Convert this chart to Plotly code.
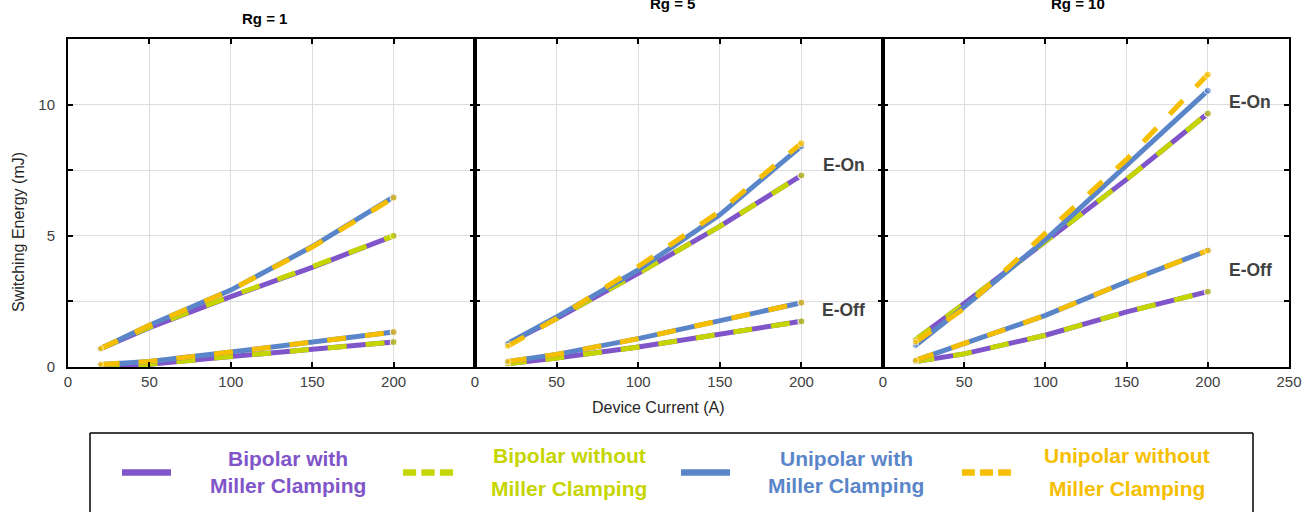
import plotly.graph_objects as go

# Device current sample points (A)
current = [20, 50, 100, 150, 200]

# Switching energy (mJ) per gate resistance
# Rg = 1
rg1_eon_bip_mc = [0.70, 1.50, 2.68, 3.80, 5.00]
rg1_eon_bip_nomc = [0.70, 1.52, 2.70, 3.82, 5.00]
rg1_eon_uni_mc = [0.70, 1.59, 2.93, 4.59, 6.48]
rg1_eon_uni_nomc = [0.70, 1.59, 2.93, 4.57, 6.45]
rg1_eoff_bip_mc = [0.00, 0.10, 0.40, 0.66, 0.95]
rg1_eoff_bip_nomc = [0.00, 0.10, 0.40, 0.66, 0.95]
rg1_eoff_uni_mc = [0.10, 0.21, 0.57, 0.93, 1.33]
rg1_eoff_uni_nomc = [0.10, 0.21, 0.57, 0.93, 1.33]

# Rg = 5
rg5_eon_bip_mc = [0.89, 1.85, 3.57, 5.36, 7.30]
rg5_eon_bip_nomc = [0.89, 1.85, 3.57, 5.36, 7.30]
rg5_eon_uni_mc = [0.89, 1.91, 3.70, 5.80, 8.42]
rg5_eon_uni_nomc = [0.79, 1.85, 3.83, 5.93, 8.53]
rg5_eoff_bip_mc = [0.12, 0.34, 0.76, 1.25, 1.74]
rg5_eoff_bip_nomc = [0.12, 0.34, 0.76, 1.25, 1.74]
rg5_eoff_uni_mc = [0.21, 0.48, 1.08, 1.76, 2.45]
rg5_eoff_uni_nomc = [0.21, 0.48, 1.08, 1.76, 2.45]

# Rg = 10
rg10_eon_bip_mc = [1.04, 2.42, 4.78, 7.15, 9.66]
rg10_eon_bip_nomc = [1.04, 2.42, 4.78, 7.15, 9.66]
rg10_eon_uni_mc = [0.82, 2.29, 4.85, 7.66, 10.53]
rg10_eon_uni_nomc = [0.95, 2.23, 5.10, 7.91, 11.15]
rg10_eoff_bip_mc = [0.21, 0.50, 1.21, 2.10, 2.87]
rg10_eoff_bip_nomc = [0.21, 0.50, 1.21, 2.10, 2.87]
rg10_eoff_uni_mc = [0.25, 0.89, 1.97, 3.25, 4.44]
rg10_eoff_uni_nomc = [0.25, 0.89, 1.97, 3.25, 4.44]

panel_titles = ["Rg = 1", "Rg = 5", "Rg = 10"]
series_line1 = ["Bipolar with", "Bipolar without", "Unipolar with", "Unipolar without"]
series_line2 = ["Miller Clamping"] * 4
x_ticks_inner = [0, 50, 100, 150, 200]
x_ticks_last = [0, 50, 100, 150, 200, 250]
y_ticks = [0, 2.5, 5, 7.5, 10]
y_tick_text = ["0", "", "5", "", "10"]

PURPLE = "#7F55C9"
GREEN = "#C5D500"
BLUE = "#5A86C9"
ORANGE = "#F6BE00"
colors = [PURPLE, GREEN, BLUE, ORANGE]
dashes = ["solid", "19px,19px", "solid", "19px,19px"]

panels = [
    [(rg1_eon_bip_mc, rg1_eon_bip_nomc, rg1_eon_uni_mc, rg1_eon_uni_nomc),
     (rg1_eoff_bip_mc, rg1_eoff_bip_nomc, rg1_eoff_uni_mc, rg1_eoff_uni_nomc)],
    [(rg5_eon_bip_mc, rg5_eon_bip_nomc, rg5_eon_uni_mc, rg5_eon_uni_nomc),
     (rg5_eoff_bip_mc, rg5_eoff_bip_nomc, rg5_eoff_uni_mc, rg5_eoff_uni_nomc)],
    [(rg10_eon_bip_mc, rg10_eon_bip_nomc, rg10_eon_uni_mc, rg10_eon_uni_nomc),
     (rg10_eoff_bip_mc, rg10_eoff_bip_nomc, rg10_eoff_uni_mc, rg10_eoff_uni_nomc)],
]

W, H = 1305, 512
FONT = "Liberation Sans, Arial, sans-serif"


def px(x):
    return x / W


def py(y):
    return 1 - y / H


fig = go.Figure()

for p, groups in enumerate(panels):
    xa = "x" if p == 0 else f"x{p + 1}"
    ya = "y" if p == 0 else f"y{p + 1}"
    for group in groups:
        for k, vals in enumerate(group):
            n = len(vals)
            fig.add_trace(go.Scatter(
                x=current, y=vals, xaxis=xa, yaxis=ya, mode="lines+markers",
                line=dict(color=colors[k], width=5, dash=dashes[k]),
                marker=dict(color=colors[k], size=[6] + [0] * (n - 2) + [7]),
                showlegend=False, hoverinfo="skip",
            ))

domains = [(68, 475), (475, 883), (883, 1289)]
frame = dict(
    showgrid=True, gridcolor="#dddddd", gridwidth=1,
    showline=True, linecolor="black", linewidth=2, mirror="allticks",
    ticks="inside", ticklen=5, tickcolor="black", tickwidth=1.5,
    tickfont=dict(family=FONT, size=15, color="#404040"),
    zeroline=False, automargin=False,
)
for p, (a, b) in enumerate(domains):
    suffix = "" if p == 0 else str(p + 1)
    xa = dict(frame, range=[0, 250], domain=[px(a), px(b)],
              tickvals=x_ticks_last if p == 2 else x_ticks_inner,
              anchor="y" + suffix)
    ya = dict(frame, range=[0, 12.5], domain=[py(367), py(39)],
              tickvals=y_ticks, ticktext=y_tick_text,
              anchor="x" + suffix, showticklabels=(p == 0), ticklabelstandoff=8)
    fig.update_layout(**{"xaxis" + suffix: xa, "yaxis" + suffix: ya})


def note(text, x, y, size, color, **kw):
    return dict(text=text, x=px(x), y=py(y), xref="paper", yref="paper",
                xanchor="center", yanchor="middle", showarrow=False,
                font=dict(family=FONT, size=size, color=color), **kw)


annotations = []
title_pos = [(264, 18), (672, 3), (1078, 3)]
for t, (x, y) in zip(panel_titles, title_pos):
    annotations.append(note(f"<b>{t}</b>", x, y, 15, "black"))

# E-On / E-Off labels placed in data coordinates
label_font = dict(family=FONT, size=17.5, color="#404040")
for xr, yr, txt, xv, yv in [("x2", "y2", "E-On", 226, 7.68), ("x2", "y2", "E-Off", 226, 2.16),
                            ("x3", "y3", "E-On", 226, 10.1), ("x3", "y3", "E-Off", 226, 3.7)]:
    annotations.append(dict(text=f"<b>{txt}</b>", x=xv, y=yv, xref=xr, yref=yr,
                            xanchor="center", yanchor="middle", showarrow=False, font=label_font))

annotations.append(note("Device Current (A)", 658, 407, 16, "#262626"))
annotations.append(note("Switching Energy (mJ)", 18, 232, 16, "#262626", textangle=-90))

# Hand-drawn legend box (bottom edge falls outside the figure)
shapes = []
for x0, y0, x1, y1 in [(90, 433, 1253, 433), (90, 433, 90, 512), (1253, 433, 1253, 512)]:
    shapes.append(dict(type="line", xref="paper", yref="paper", x0=px(x0), y0=py(y0),
                       x1=px(x1), y1=py(y1), line=dict(color="black", width=1.5)))

legend_items = [
    (122, 171, 288, "solid", 458, 485),
    (403, 453, 569, "dash", 455, 488),
    (681, 730, 846, "solid", 458, 485),
    (962, 1011, 1127, "dash", 455, 488),
]
ly = 472.5
for (x0, x1, tx, style, t1, t2), l1, l2, col in zip(legend_items, series_line1, series_line2, colors):
    if style == "solid":
        shapes.append(dict(type="line", xref="paper", yref="paper", x0=px(x0), x1=px(x1),
                           y0=py(ly), y1=py(ly), line=dict(color=col, width=6.5)))
    else:
        seg = (x1 - x0) / 3.8
        for i in range(3):
            s = x0 + i * seg * 1.4
            shapes.append(dict(type="line", xref="paper", yref="paper", x0=px(s), x1=px(s + seg),
                               y0=py(ly), y1=py(ly), line=dict(color=col, width=6.5)))
    annotations.append(note(f"<b>{l1}</b>", tx, t1, 21, col))
    annotations.append(note(f"<b>{l2}</b>", tx, t2, 21, col))

fig.update_layout(
    width=W, height=H, margin=dict(l=0, r=0, t=0, b=0), autosize=False,
    paper_bgcolor="white", plot_bgcolor="white", showlegend=False,
    annotations=annotations, shapes=shapes,
)

fig.write_html("out.html")
